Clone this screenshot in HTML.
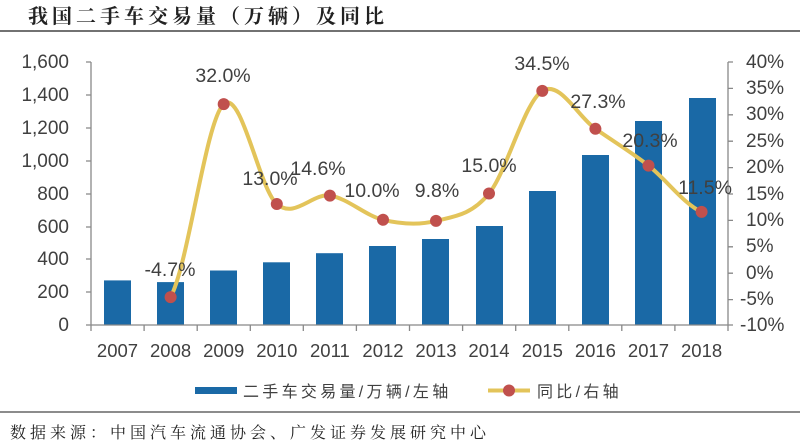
<!DOCTYPE html>
<html><head><meta charset="utf-8"><style>
body{margin:0;background:#fff;}
svg{display:block;font-family:"Liberation Sans","Noto Sans CJK SC",sans-serif;}
</style></head><body>
<svg width="800" height="447" viewBox="0 0 800 447" xmlns="http://www.w3.org/2000/svg">
<text x="28" y="23" font-size="20" font-weight="bold" fill="#222" letter-spacing="4" font-family="'Noto Serif CJK SC','Noto Sans CJK SC',serif">我国二手车交易量（万辆）及同比</text>
<line x1="0" y1="31" x2="800" y2="31" stroke="#444" stroke-width="1.5"/>
<g fill="#1a69a6">
<rect x="104" y="280.4" width="27" height="44.6"/>
<rect x="157" y="282.1" width="27" height="42.9"/>
<rect x="210" y="270.5" width="27" height="54.5"/>
<rect x="263" y="262.3" width="27" height="62.7"/>
<rect x="316" y="253.2" width="27" height="71.8"/>
<rect x="369" y="246" width="27" height="79"/>
<rect x="422" y="239" width="27" height="86"/>
<rect x="476" y="226" width="27" height="99"/>
<rect x="529" y="191" width="27" height="134"/>
<rect x="582" y="155" width="27" height="170"/>
<rect x="635" y="121" width="27" height="204"/>
<rect x="689" y="98" width="27" height="227"/>
</g>
<g stroke="#888" stroke-width="1.3" fill="none">
<line x1="91" y1="62" x2="91" y2="325"/>
<line x1="91" y1="325" x2="728" y2="325"/>
<line x1="728" y1="62" x2="728" y2="325"/>
<path d="M86 62H91M86 95H91M86 128H91M86 161H91M86 194H91M86 227H91M86 259H91M86 292H91M86 325H91"/>
<path d="M728 62H733M728 88.4H733M728 114.8H733M728 141.2H733M728 167.6H733M728 194H733M728 220.4H733M728 246.8H733M728 273.2H733M728 299.6H733M728 325H733"/>
<path d="M91 325V331M144.1 325V331M197.2 325V331M250.3 325V331M303.3 325V331M356.4 325V331M409.5 325V331M462.6 325V331M515.7 325V331M568.8 325V331M621.8 325V331M674.9 325V331M728 325V331"/>
</g>
<g font-size="19" fill="#404040" text-anchor="end">
<text x="69" y="68">1,600</text><text x="69" y="101">1,400</text><text x="69" y="134">1,200</text>
<text x="69" y="167">1,000</text><text x="69" y="200">800</text><text x="69" y="233">600</text>
<text x="69" y="265">400</text><text x="69" y="298">200</text><text x="69" y="331">0</text>
</g>
<g font-size="19" fill="#404040">
<text x="746" y="68">40%</text><text x="746" y="94">35%</text><text x="746" y="120">30%</text>
<text x="746" y="147">25%</text><text x="746" y="173">20%</text><text x="746" y="200">15%</text>
<text x="746" y="226">10%</text><text x="746" y="252">5%</text><text x="746" y="279">0%</text>
<text x="740" y="305">-5%</text><text x="740" y="331">-10%</text>
</g>
<g font-size="18.5" fill="#404040" text-anchor="middle">
<text x="117.5" y="357">2007</text><text x="170.6" y="357">2008</text><text x="223.7" y="357">2009</text>
<text x="276.8" y="357">2010</text><text x="329.9" y="357">2011</text><text x="383" y="357">2012</text>
<text x="436" y="357">2013</text><text x="489" y="357">2014</text><text x="542.3" y="357">2015</text>
<text x="595.4" y="357">2016</text><text x="648.5" y="357">2017</text><text x="701.6" y="357">2018</text>
</g>
<path fill="none" stroke="#e3c45a" stroke-width="4" d="M170.6 297.1 C188.3 264.9 206 119.6 223.7 104.1 C241.4 88.6 259.1 188.75 276.8 204 C294.5 219.25 312.2 193 329.9 195.6 C347.6 198.2 365.3 215.6 383 219.8 C400.7 224 418.3 225.3 436 220.9 C453.7 216.5 471.3 215.2 489 193.5 C506.7 171.8 524.6 101.7 542.3 90.9 C560 80.1 577.7 116.35 595.4 128.8 C613.1 141.25 630.8 151.75 648.5 165.6 C666.2 179.45 683.9 204.2 701.6 211.9"/>
<g fill="#c0504d">
<circle cx="170.6" cy="297.1" r="6"/><circle cx="223.7" cy="104.1" r="6"/><circle cx="276.8" cy="204" r="6"/>
<circle cx="329.9" cy="195.6" r="6"/><circle cx="383" cy="219.8" r="6"/><circle cx="436" cy="220.9" r="6"/>
<circle cx="489" cy="193.5" r="6"/><circle cx="542.3" cy="90.9" r="6"/><circle cx="595.4" cy="128.8" r="6"/>
<circle cx="648.5" cy="165.6" r="6"/><circle cx="701.6" cy="211.9" r="6"/>
</g>
<g font-size="19.5" fill="#404040" text-anchor="middle">
<text x="170" y="276">-4.7%</text><text x="223" y="82">32.0%</text><text x="270" y="185">13.0%</text>
<text x="318" y="175">14.6%</text><text x="372" y="197">10.0%</text><text x="437" y="197">9.8%</text>
<text x="489" y="172">15.0%</text><text x="542" y="70">34.5%</text><text x="598" y="108">27.3%</text>
<text x="650" y="147">20.3%</text><text x="705" y="194">11.5%</text>
</g>
<rect x="195" y="387" width="42" height="7" fill="#1a69a6"/>
<text x="243" y="397" font-size="16" fill="#404040" letter-spacing="3.3">二手车交易量/万辆/左轴</text>
<line x1="488" y1="390.5" x2="530" y2="390.5" stroke="#e3c45a" stroke-width="4"/>
<circle cx="509" cy="390.5" r="6" fill="#c0504d"/>
<text x="537" y="397" font-size="16" fill="#404040" letter-spacing="3.3">同比/右轴</text>
<line x1="0" y1="412" x2="800" y2="412" stroke="#666" stroke-width="1.5"/>
<text x="10" y="438" font-size="16" fill="#222" letter-spacing="4" font-family="'Noto Serif CJK SC','Noto Sans CJK SC',serif">数据来源：中国汽车流通协会、广发证券发展研究中心</text>
</svg>
</body></html>
